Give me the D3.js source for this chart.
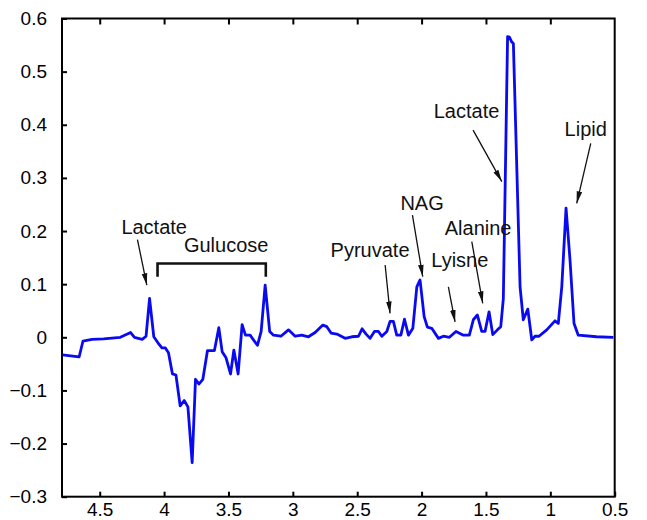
<!DOCTYPE html>
<html>
<head>
<meta charset="utf-8">
<script src="https://cdn.jsdelivr.net/npm/d3@7"></script>
<style>
  html, body { margin: 0; padding: 0; background: #fff; }
  svg { display: block; font-family: "Liberation Sans", Arial, Helvetica, sans-serif; }
</style>
</head>
<body>
<svg id="chart" width="647" height="520"></svg>
<script>
// Chemical shift (ppm) of each sampled point of the difference spectrum
const shiftPpm = [
  4.79, 4.66, 4.63, 4.56, 4.47, 4.34, 4.26, 4.23, 4.17, 4.14,
  4.113, 4.08, 4.04, 4.017, 3.99, 3.966, 3.935, 3.908, 3.875, 3.844,
  3.815, 3.782, 3.756, 3.73, 3.699, 3.663, 3.609, 3.575, 3.549, 3.52,
  3.484, 3.458, 3.425, 3.394, 3.368, 3.332, 3.275, 3.246, 3.215, 3.18,
  3.15, 3.093, 3.034, 2.982, 2.93, 2.879, 2.827, 2.767, 2.736, 2.703,
  2.658, 2.594, 2.542, 2.49, 2.462, 2.431, 2.40, 2.366, 2.335, 2.309,
  2.27, 2.245, 2.219, 2.193, 2.161, 2.133, 2.102, 2.068, 2.037, 2.012,
  1.98, 1.955, 1.921, 1.869, 1.831, 1.784, 1.733, 1.675, 1.629, 1.598,
  1.567, 1.533, 1.507, 1.476, 1.447, 1.411, 1.385, 1.365, 1.332, 1.318,
  1.30, 1.287, 1.235, 1.21, 1.175, 1.144, 1.119, 1.088, 1.028, 0.964,
  0.938, 0.911, 0.878, 0.847, 0.816, 0.783, 0.64, 0.51
];

// Intensity at each chemical shift
const intensity = [
  -0.033, -0.037, -0.007, -0.004, -0.003, 0.000, 0.009, 0.000, -0.004, 0.002,
  0.073, 0.001, -0.013, -0.020, -0.020, -0.029, -0.069, -0.071, -0.129, -0.119,
  -0.131, -0.236, -0.079, -0.088, -0.079, -0.025, -0.025, 0.018, -0.027, -0.038,
  -0.069, -0.024, -0.069, 0.024, 0.004, 0.004, -0.015, 0.011, 0.098, 0.011,
  0.004, 0.002, 0.014, 0.002, 0.004, 0.001, 0.009, 0.023, 0.020, 0.008,
  0.006, -0.002, 0.001, 0.002, 0.016, 0.006, -0.002, 0.011, 0.011, 0.002,
  0.011, 0.030, 0.030, 0.004, 0.004, 0.034, 0.004, 0.017, 0.095, 0.108,
  0.039, 0.019, 0.017, -0.002, 0.002, 0.000, 0.011, 0.004, 0.004, 0.033,
  0.042, 0.011, 0.011, 0.048, 0.005, 0.014, 0.020, 0.073, 0.566, 0.565,
  0.556, 0.553, 0.095, 0.033, 0.053, -0.005, 0.002, 0.002, 0.014, 0.031,
  0.026, 0.095, 0.243, 0.145, 0.026, 0.004, 0.001, 0.000
];

const xTicks = [4.5, 4, 3.5, 3, 2.5, 2, 1.5, 1, 0.5];
const yTicks = [-0.3, -0.2, -0.1, 0, 0.1, 0.2, 0.3, 0.4, 0.5, 0.6];

// Peak labels: text anchor and arrow (from -> to), all in data units
const labelText  = ["Lactate", "Pyruvate", "NAG", "Lyisne", "Alanine", "Lactate", "Lipid"];
const labelAt    = [[4.077, 0.194], [2.400, 0.151], [1.996, 0.240], [1.703, 0.133], [1.561, 0.193], [1.651, 0.412], [0.725, 0.379]];
const arrowFrom  = [[4.207, 0.184], [2.283, 0.136], [2.071, 0.230], [1.792, 0.095], [1.610, 0.180], [1.600, 0.390], [0.686, 0.365]];
const arrowTo    = [[4.134, 0.098], [2.245, 0.045], [1.991, 0.114], [1.740, 0.029], [1.525, 0.064], [1.377, 0.293], [0.795, 0.252]];

// Glucose region bracket
const bracketName = "Gulucose";
const bracketLabelAt = [3.518, 0.161];
const bracketSpan = [4.051, 3.210];
const bracketTop = 0.139;
const bracketFoot = 0.114;

const svg = d3.select("#chart");
const margin = { left: 62, right: 32.3, top: 18.5, bottom: 23.3 };
const W = 647, H = 520;

const x = d3.scaleLinear().domain([4.793, 0.5]).range([margin.left, W - margin.right]);
const y = d3.scaleLinear().domain([-0.3, 0.6]).range([H - margin.bottom, margin.top]);

const fmt = v => (v < 0 ? "\u2212" : "") + d3.format("")(Math.abs(v));

// Bottom axis, ticks pointing into the plot
const gx = svg.append("g")
  .attr("transform", `translate(0,${H - margin.bottom})`)
  .call(d3.axisBottom(x).tickValues(xTicks).tickSizeInner(-5).tickSizeOuter(0).tickPadding(6).tickFormat(fmt));
gx.select(".domain").remove();

// Top axis, ticks only
const gt = svg.append("g")
  .attr("transform", `translate(0,${margin.top})`)
  .call(d3.axisTop(x).tickValues(xTicks.filter(v => v !== 0.5)).tickSizeInner(-6).tickSizeOuter(0).tickFormat(""));
gt.select(".domain").remove();

// Left axis, ticks pointing into the plot
const gy = svg.append("g")
  .attr("transform", `translate(${margin.left},0)`)
  .call(d3.axisLeft(y).tickValues(yTicks).tickSizeInner(-5).tickSizeOuter(0).tickPadding(15).tickFormat(fmt));
gy.select(".domain").remove();

svg.selectAll(".tick line").attr("stroke", "#000").attr("stroke-width", 2);
svg.selectAll(".tick text").attr("fill", "#000").style("font-size", "19px")
  .style("font-family", "'Liberation Sans', Arial, Helvetica, sans-serif");

// Plot frame
svg.append("rect")
  .attr("x", margin.left).attr("y", margin.top)
  .attr("width", W - margin.right - margin.left)
  .attr("height", H - margin.bottom - margin.top)
  .attr("fill", "none").attr("stroke", "#000").attr("stroke-width", 2);

// Spectrum
const points = shiftPpm.map((p, i) => [p, intensity[i]]);
svg.append("path")
  .datum(points)
  .attr("fill", "none")
  .attr("stroke", "#0a0af0")
  .attr("stroke-width", 2.8)
  .attr("stroke-linejoin", "round")
  .attr("d", d3.line().x(d => x(d[0])).y(d => y(d[1])));

// Arrowhead marker
svg.append("defs").append("marker")
  .attr("id", "head")
  .attr("viewBox", "0 0 12 8")
  .attr("refX", 12).attr("refY", 4)
  .attr("markerWidth", 12).attr("markerHeight", 8)
  .attr("markerUnits", "userSpaceOnUse")
  .attr("orient", "auto")
  .append("path").attr("d", "M0,1.2 L12,4 L0,6.8 Z").attr("fill", "#111");

const ann = svg.append("g");
labelText.forEach((t, i) => {
  ann.append("text")
    .attr("x", x(labelAt[i][0])).attr("y", y(labelAt[i][1]))
    .attr("text-anchor", "middle")
    .style("font-size", "20px").attr("fill", "#111")
    .text(t);
  ann.append("line")
    .attr("x1", x(arrowFrom[i][0])).attr("y1", y(arrowFrom[i][1]))
    .attr("x2", x(arrowTo[i][0])).attr("y2", y(arrowTo[i][1]))
    .attr("stroke", "#111").attr("stroke-width", 1.3)
    .attr("marker-end", "url(#head)");
});

// Glucose bracket
ann.append("text")
  .attr("x", x(bracketLabelAt[0])).attr("y", y(bracketLabelAt[1]))
  .attr("text-anchor", "middle")
  .style("font-size", "20px").attr("fill", "#111")
  .text(bracketName);
ann.append("path")
  .attr("fill", "none").attr("stroke", "#111").attr("stroke-width", 2.6)
  .attr("d", `M${x(bracketSpan[0])},${y(bracketFoot)} V${y(bracketTop)} H${x(bracketSpan[1])} V${y(bracketFoot)}`);
</script>
</body>
</html>
